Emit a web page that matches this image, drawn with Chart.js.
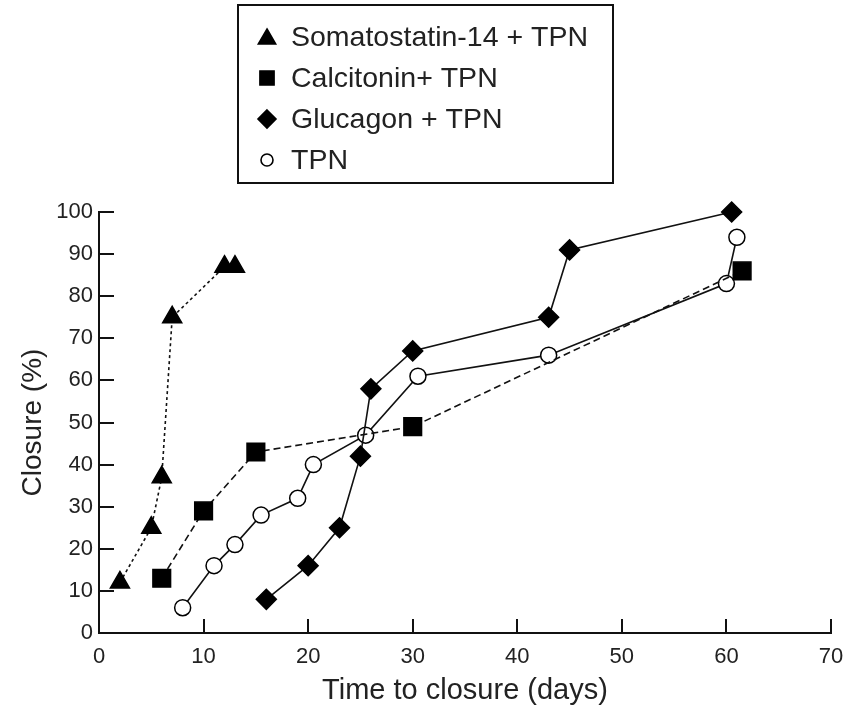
<!DOCTYPE html>
<html>
<head>
<meta charset="utf-8">
<script src="https://cdn.jsdelivr.net/npm/chart.js@4/dist/chart.umd.min.js"></script>
<style>
  html, body { margin: 0; padding: 0; background: #fff; }
  #wrap { width: 850px; height: 711px; }
</style>
</head>
<body>
<div id="wrap"><canvas id="c" width="850" height="711"></canvas></div>
<script>
// ---- data ----
const seriesLabels = ['Somatostatin-14 + TPN', 'Calcitonin+ TPN', 'Glucagon + TPN', 'TPN'];

const somatostatinDays = [2, 5, 6, 7, 12, 13];
const somatostatinClosure = [12, 25, 37, 75, 87, 87];

const calcitoninDays = [6, 10, 15, 30, 61.5];
const calcitoninClosure = [13, 29, 43, 49, 86];

const glucagonDays = [16, 20, 23, 25, 26, 30, 43, 45, 60.5];
const glucagonClosure = [8, 16, 25, 42, 58, 67, 75, 91, 100];

const tpnDays = [8, 11, 13, 15.5, 19, 20.5, 25.5, 30.5, 43, 60, 61];
const tpnClosure = [6, 16, 21, 28, 32, 40, 47, 61, 66, 83, 94];

const xTicks = [0, 10, 20, 30, 40, 50, 60, 70];
const yTicks = [0, 10, 20, 30, 40, 50, 60, 70, 80, 90, 100];

const xTitle = 'Time to closure (days)';
const yTitle = 'Closure (%)';

function pts(xs, ys) { return xs.map((x, i) => ({ x: x, y: ys[i] })); }

const FONT = "'Liberation Sans', Arial, Helvetica, sans-serif";
const TXT = '#222';

// inward tick marks
const innerTicks = {
  id: 'innerTicks',
  afterDraw(chart) {
    const ctx = chart.ctx;
    const xs = chart.scales.x, ys = chart.scales.y;
    const area = chart.chartArea;
    ctx.save();
    ctx.strokeStyle = '#111';
    ctx.lineWidth = 2;
    ctx.beginPath();
    yTicks.forEach(v => {
      const py = Math.round(ys.getPixelForValue(v));
      ctx.moveTo(area.left, py);
      ctx.lineTo(area.left + 15, py);
    });
    xTicks.forEach(v => {
      const px = Math.round(xs.getPixelForValue(v));
      ctx.moveTo(px, area.bottom);
      ctx.lineTo(px, area.bottom - 14);
    });
    ctx.stroke();
    ctx.restore();
  }
};

// boxed legend in the top area
function drawMarker(ctx, style, x, y, r, fill) {
  ctx.beginPath();
  if (style === 'triangle') {
    ctx.moveTo(x, y - r);
    ctx.lineTo(x + r * 0.866, y + r * 0.5);
    ctx.lineTo(x - r * 0.866, y + r * 0.5);
    ctx.closePath();
  } else if (style === 'rect') {
    const s = r * Math.SQRT1_2;
    ctx.rect(x - s, y - s, 2 * s, 2 * s);
  } else if (style === 'rectRot') {
    ctx.moveTo(x, y - r);
    ctx.lineTo(x + r, y);
    ctx.lineTo(x, y + r);
    ctx.lineTo(x - r, y);
    ctx.closePath();
  } else {
    ctx.arc(x, y, r, 0, Math.PI * 2);
  }
  ctx.fillStyle = fill;
  ctx.fill();
  ctx.lineWidth = 1.6;
  ctx.strokeStyle = '#000';
  ctx.stroke();
}

const boxLegend = {
  id: 'boxLegend',
  afterDraw(chart) {
    const ctx = chart.ctx;
    ctx.save();
    ctx.strokeStyle = '#111';
    ctx.lineWidth = 2;
    ctx.strokeRect(238, 5, 375, 178);
    const rows = [37, 78, 119, 160];
    const sizes = [10, 10, 9, 6];
    chart.data.datasets.forEach((ds, i) => {
      drawMarker(ctx, ds.pointStyle, 267, rows[i] + (ds.pointStyle === 'triangle' ? 2 : 0), sizes[i], ds.pointBackgroundColor);
      ctx.fillStyle = TXT;
      ctx.font = '28.5px ' + FONT;
      ctx.textBaseline = 'middle';
      ctx.textAlign = 'left';
      ctx.fillText(ds.label, 291, rows[i] + 1);
    });
    ctx.restore();
  }
};

const common = { showLine: true, clip: false, borderColor: '#111', borderWidth: 1.6,
  pointBorderColor: '#000', pointBorderWidth: 1.5, pointHoverRadius: 0 };

new Chart(document.getElementById('c'), {
  type: 'scatter',
  data: {
    datasets: [
      Object.assign({}, common, { label: seriesLabels[0], data: pts(somatostatinDays, somatostatinClosure),
        pointStyle: 'triangle', pointRadius: 11, pointBackgroundColor: '#000', borderDash: [3, 3] }),
      Object.assign({}, common, { label: seriesLabels[1], data: pts(calcitoninDays, calcitoninClosure),
        pointStyle: 'rect', pointRadius: 12.5, pointBackgroundColor: '#000', borderDash: [7, 4] }),
      Object.assign({}, common, { label: seriesLabels[2], data: pts(glucagonDays, glucagonClosure),
        pointStyle: 'rectRot', pointRadius: 10, pointBackgroundColor: '#000' }),
      Object.assign({}, common, { label: seriesLabels[3], data: pts(tpnDays, tpnClosure),
        pointStyle: 'circle', pointRadius: 8, pointBackgroundColor: '#fff' })
    ]
  },
  options: {
    responsive: false,
    animation: false,
    events: [],
    layout: { padding: { top: 212, right: 19, left: 0, bottom: 0 } },
    plugins: { legend: { display: false }, tooltip: { enabled: false } },
    scales: {
      x: {
        type: 'linear', min: 0, max: 70,
        afterBuildTicks: s => { s.ticks = xTicks.map(v => ({ value: v })); },
        afterFit: s => { s.height = 78; s.paddingLeft = 0; s.paddingRight = 0; },
        grid: { display: false, drawTicks: false },
        border: { display: true, color: '#111', width: 2 },
        ticks: { color: TXT, font: { family: FONT, size: 22 }, padding: 11, maxRotation: 0 },
        title: { display: true, text: xTitle, color: TXT, font: { family: FONT, size: 29 }, padding: { top: 0, bottom: 3 } }
      },
      y: {
        type: 'linear', min: 0, max: 100,
        afterBuildTicks: s => { s.ticks = yTicks.map(v => ({ value: v })); },
        afterFit: s => { s.width = 99; s.paddingTop = 0; s.paddingBottom = 0; },
        grid: { display: false, drawTicks: false },
        border: { display: true, color: '#111', width: 2 },
        ticks: { color: TXT, font: { family: FONT, size: 22 }, padding: 6 },
        title: { display: true, text: yTitle, color: TXT, font: { family: FONT, size: 28 }, padding: { top: 16, bottom: 0 } }
      }
    }
  },
  plugins: [innerTicks, boxLegend]
});
</script>
</body>
</html>
